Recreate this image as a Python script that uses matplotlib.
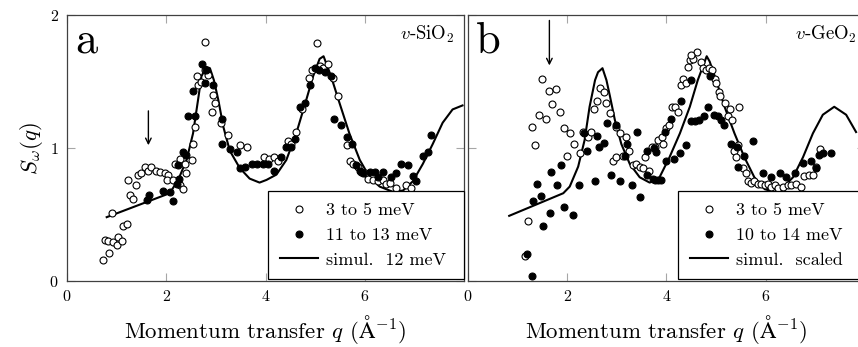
import matplotlib
matplotlib.use('Agg')
import matplotlib.pyplot as plt
import numpy as np

plt.rcParams['font.family'] = 'serif'
plt.rcParams['font.serif'] = ['cmr10']
plt.rcParams['mathtext.fontset'] = 'cm'
plt.rcParams['axes.unicode_minus'] = False
plt.rcParams['axes.formatter.use_mathtext'] = True

# # # # # # # # # # # # # # # #   D A T A   # # # # # # # # # # # # # # # #
# panel a: v-SiO2
sio2_low_q = [0.72, 0.85, 0.76, 0.83, 0.93, 1.00, 1.03, 1.10, 1.13, 1.20, 0.90, 1.27, 1.33,
              1.23, 1.39, 1.44, 1.50, 1.57, 1.64, 1.70, 1.80, 1.87, 1.97, 2.04, 2.01, 2.14,
              2.17, 2.27, 2.37, 2.51, 2.27, 2.33, 2.39, 2.54, 2.58, 2.61, 2.64, 2.71, 2.78,
              2.84, 2.78, 2.94, 2.98, 2.93, 3.11, 3.25, 3.48, 3.62, 3.96, 4.08, 4.18, 4.25,
              4.45, 4.52, 4.62, 4.74, 4.88, 4.94, 5.04, 5.09, 5.16, 5.26, 5.36, 5.46, 5.64,
              5.71, 5.77, 5.86, 5.93, 6.00, 6.06, 6.16, 6.26, 6.36, 6.43, 6.50, 6.62, 6.83,
              6.93]
sio2_low_s = [0.16, 0.21, 0.31, 0.30, 0.29, 0.27, 0.33, 0.30, 0.41, 0.43, 0.51, 0.65, 0.62,
              0.76, 0.72, 0.80, 0.81, 0.86, 0.83, 0.86, 0.83, 0.82, 0.81, 0.80, 0.76, 0.76,
              0.88, 0.92, 0.88, 0.91, 0.72, 0.69, 0.81, 1.03, 1.16, 1.54, 1.47, 1.50, 1.59,
              1.55, 1.80, 1.40, 1.34, 1.27, 1.19, 1.10, 1.02, 1.01, 0.93, 0.92, 0.93, 0.90,
              1.05, 1.03, 1.12, 1.29, 1.53, 1.59, 1.79, 1.62, 1.60, 1.63, 1.53, 1.39, 1.02,
              0.90, 0.88, 0.86, 0.82, 0.81, 0.77, 0.76, 0.75, 0.76, 0.73, 0.74, 0.70, 0.72,
              0.70]

sio2_high_q = [1.66, 1.62, 1.94, 2.07, 2.14, 2.21, 2.26, 2.24, 2.33, 2.39, 2.44, 2.58, 2.54,
               2.73, 2.78, 2.81, 2.94, 3.13, 3.13, 3.29, 3.43, 3.48, 3.58, 3.72, 3.82, 3.95,
               4.05, 4.18, 4.32, 4.42, 4.52, 4.59, 4.69, 4.79, 4.89, 4.99, 5.08, 5.19, 5.31,
               5.39, 5.53, 5.64, 5.75, 5.83, 5.90, 5.96, 6.10, 6.20, 6.26, 6.36, 6.53, 6.63,
               6.73, 6.87, 6.97, 7.04, 7.17, 7.27, 7.34]
sio2_high_s = [0.65, 0.61, 0.68, 0.67, 0.60, 0.73, 0.77, 0.87, 0.97, 0.95, 1.24, 1.24, 1.43,
               1.63, 1.49, 1.59, 1.47, 1.22, 1.03, 0.99, 0.97, 0.85, 0.86, 0.88, 0.88, 0.88,
               0.88, 0.83, 0.93, 1.01, 1.01, 1.07, 1.31, 1.34, 1.47, 1.60, 1.59, 1.57, 1.54,
               1.22, 1.17, 1.08, 1.03, 0.87, 0.83, 0.81, 0.82, 0.82, 0.78, 0.82, 0.78, 0.81,
               0.88, 0.87, 0.79, 0.75, 0.94, 0.97, 1.10]

sio2_sim_q = [0.80, 2.07, 2.24, 2.41, 2.54, 2.64, 2.71, 2.81, 2.88, 2.96, 3.05, 3.15, 3.28,
              3.48, 3.68, 3.88, 4.02, 4.22, 4.42, 4.62, 4.82, 4.96, 5.09, 5.17, 5.22, 5.32,
              5.49, 5.69, 5.90, 6.10, 6.30, 6.57, 6.77, 6.97, 7.17, 7.37, 7.57, 7.77, 7.97]
sio2_sim_s = [0.48, 0.66, 0.76, 0.91, 1.11, 1.36, 1.54, 1.61, 1.60, 1.51, 1.36, 1.16, 0.98,
              0.85, 0.77, 0.74, 0.76, 0.80, 0.91, 1.11, 1.36, 1.54, 1.67, 1.69, 1.64, 1.54,
              1.34, 1.11, 0.91, 0.78, 0.71, 0.67, 0.68, 0.75, 0.88, 1.03, 1.19, 1.29, 1.32]

# panel b: v-GeO2
geo2_low_q = [1.15, 1.21, 1.28, 1.35, 1.44, 1.50, 1.57, 1.64, 1.77, 1.70, 1.85, 1.93, 2.05,
              2.14, 1.99, 2.25, 2.32, 2.42, 2.47, 2.54, 2.60, 2.67, 2.74, 2.79, 2.86, 2.99,
              3.06, 3.18, 3.25, 2.92, 2.99, 3.12, 3.33, 3.39, 3.47, 3.53, 3.65, 3.56, 3.70,
              3.76, 3.83, 3.90, 3.93, 4.00, 4.05, 4.12, 4.18, 4.23, 4.30, 4.33, 4.39, 4.43,
              4.47, 4.54, 4.62, 4.50, 4.70, 4.73, 4.79, 4.86, 4.92, 4.97, 5.00, 5.05, 5.08,
              5.17, 5.24, 5.27, 5.47, 5.31, 5.37, 5.44, 5.40, 5.54, 5.61, 5.64, 5.71, 5.77,
              5.84, 5.91, 5.98, 6.04, 6.11, 6.18, 6.24, 6.34, 6.45, 6.51, 6.61, 6.71, 6.78,
              6.87, 6.95, 7.02, 7.10]
geo2_low_s = [0.19, 0.45, 1.16, 1.02, 1.25, 1.52, 1.22, 1.43, 1.44, 1.33, 1.27, 1.15, 1.11,
              1.03, 0.94, 0.96, 1.12, 1.08, 1.12, 1.29, 1.35, 1.45, 1.42, 1.34, 1.26, 1.16,
              1.11, 1.08, 0.98, 0.90, 0.93, 0.94, 0.87, 0.88, 0.86, 0.85, 0.83, 0.93, 1.01,
              1.01, 1.06, 1.08, 1.03, 1.15, 1.17, 1.31, 1.31, 1.27, 1.47, 1.52, 1.49, 1.61,
              1.66, 1.67, 1.72, 1.70, 1.65, 1.60, 1.59, 1.60, 1.59, 1.52, 1.49, 1.42, 1.39,
              1.34, 1.24, 1.29, 1.31, 1.21, 0.98, 1.02, 0.93, 0.85, 0.81, 0.75, 0.74, 0.75,
              0.73, 0.73, 0.72, 0.73, 0.71, 0.72, 0.70, 0.71, 0.72, 0.72, 0.73, 0.71, 0.79,
              0.80, 0.80, 0.86, 0.99]

geo2_high_q = [1.18, 1.28, 1.30, 1.39, 1.48, 1.51, 1.65, 1.68, 1.80, 1.88, 1.93, 2.11, 2.23,
               2.34, 2.40, 2.56, 2.60, 2.64, 2.74, 2.80, 2.89, 2.99, 3.07, 3.16, 3.21, 3.31,
               3.41, 3.46, 3.61, 3.72, 3.83, 3.61, 3.74, 3.76, 3.88, 3.79, 3.98, 4.15, 4.27,
               4.40, 3.96, 4.10, 4.30, 4.50, 4.50, 4.58, 4.65, 4.75, 4.84, 4.87, 4.95, 5.03,
               5.10, 5.15, 5.29, 5.42, 5.44, 5.57, 5.75, 5.94, 6.11, 6.28, 6.41, 6.58, 6.75,
               6.92, 7.02, 7.08, 7.16, 7.32]
geo2_high_s = [0.20, 0.04, 0.60, 0.73, 0.64, 0.41, 0.51, 0.82, 0.72, 0.87, 0.56, 0.50, 0.72,
               1.11, 0.98, 0.75, 1.09, 1.01, 1.04, 1.19, 0.80, 1.17, 0.75, 0.94, 1.03, 0.72,
               1.12, 0.63, 0.80, 0.77, 0.76, 0.98, 1.00, 0.76, 0.76, 0.97, 0.90, 0.92, 0.96,
               1.02, 1.12, 1.22, 1.35, 1.51, 1.20, 1.20, 1.21, 1.24, 1.31, 1.54, 1.25, 1.24,
               1.21, 1.17, 1.03, 1.01, 0.86, 0.94, 1.05, 0.81, 0.78, 0.81, 0.78, 0.81, 0.89,
               0.90, 0.85, 0.95, 0.96, 0.96]

geo2_sim_q = [0.83, 1.92, 2.05, 2.22, 2.35, 2.45, 2.56, 2.62, 2.71, 2.79, 2.86, 2.96, 3.09,
              3.26, 3.46, 3.66, 3.73, 3.86, 4.06, 4.27, 4.47, 4.63, 4.77, 4.81, 4.87, 5.00,
              5.17, 5.37, 5.57, 5.77, 5.98, 6.18, 6.34, 6.55, 6.75, 6.95, 7.15, 7.38, 7.62,
              7.82]
geo2_sim_s = [0.49, 0.66, 0.71, 0.86, 1.06, 1.31, 1.51, 1.57, 1.60, 1.51, 1.39, 1.21, 1.03,
              0.88, 0.78, 0.74, 0.75, 0.78, 0.93, 1.11, 1.31, 1.51, 1.65, 1.69, 1.65, 1.51,
              1.31, 1.11, 0.93, 0.78, 0.69, 0.67, 0.70, 0.78, 0.93, 1.11, 1.25, 1.31, 1.25,
              1.12]

panels = [
    ('a', r'$v$-SiO$_2$', sio2_low_q, sio2_low_s, sio2_high_q, sio2_high_s, sio2_sim_q, sio2_sim_s,
     ['3 to 5 meV', '11 to 13 meV', 'simul.  12 meV'], (1.64, 1.30, 1.0)),
    ('b', r'$v$-GeO$_2$', geo2_low_q, geo2_low_s, geo2_high_q, geo2_high_s, geo2_sim_q, geo2_sim_s,
     ['3 to 5 meV', '10 to 14 meV', 'simul.  scaled'], (1.64, 1.98, 1.60)),
]

# # # # # # # # # # # # # # # #   P L O T   # # # # # # # # # # # # # # # #
fig = plt.figure(figsize=(8.58, 3.47), dpi=100)
lefts = [67 / 858, 468 / 858]
width = 397 / 858
# legend box (axes coords): left edge, width
legend_box = [(0.506, 0.494), (0.529, 0.50)]

for i, (tag, name, lq, ls, hq, hs, sq, ss, labels, arrow) in enumerate(panels):
    ax = fig.add_axes([lefts[i], 66 / 347, width, 266 / 347])
    ax.plot(lq, ls, 'o', ms=5, mfc='white', mec='black', mew=0.8, label=labels[0], zorder=3)
    ax.plot(hq, hs, 'o', ms=5, mfc='black', mec='black', mew=0.8, label=labels[1], zorder=3)
    ax.plot(sq, ss, '-', color='black', lw=1.5, label=labels[2], zorder=2)

    ax.set_xlim(0, 8)
    ax.set_ylim(0, 2)
    ax.set_xticks([0, 2, 4, 6])
    ax.set_yticks([0, 1, 2])
    ax.tick_params(direction='in', length=6, color='0.65', width=0.8,
                   top=True, right=True, labelsize=11.5, pad=6)
    for sp in ax.spines.values():
        sp.set_color('0.25')
        sp.set_linewidth(0.9)
    if i == 1:
        ax.set_yticklabels([])
    else:
        ax.set_ylabel(r'$S_\omega(q)$', fontsize=16.5, labelpad=3)
    ax.set_xlabel(r'Momentum transfer $q$ ($\mathrm{\AA}^{-1}$)', fontsize=16.5, labelpad=6)

    ax.text(0.02, 0.975, tag, transform=ax.transAxes, fontsize=32, va='top', ha='left')
    ax.text(0.975 if i == 0 else 0.98, 0.965, name, transform=ax.transAxes, fontsize=13.5,
            va='top', ha='right')
    ax.annotate('', xy=(arrow[0], arrow[2]), xytext=(arrow[0], arrow[1]),
                arrowprops=dict(arrowstyle='->', color='black', lw=1.0))

    x0, w = legend_box[i]
    leg = ax.legend(loc='lower left', bbox_to_anchor=(x0, 0.006, w, 0.33), mode='expand',
                    fontsize=13, fancybox=False, edgecolor='black', framealpha=1,
                    borderaxespad=0, handlelength=2.1, handletextpad=0.45,
                    labelspacing=0.5, borderpad=0.65)
    leg.get_frame().set_linewidth(0.9)

fig.savefig('out.png', dpi=100)
